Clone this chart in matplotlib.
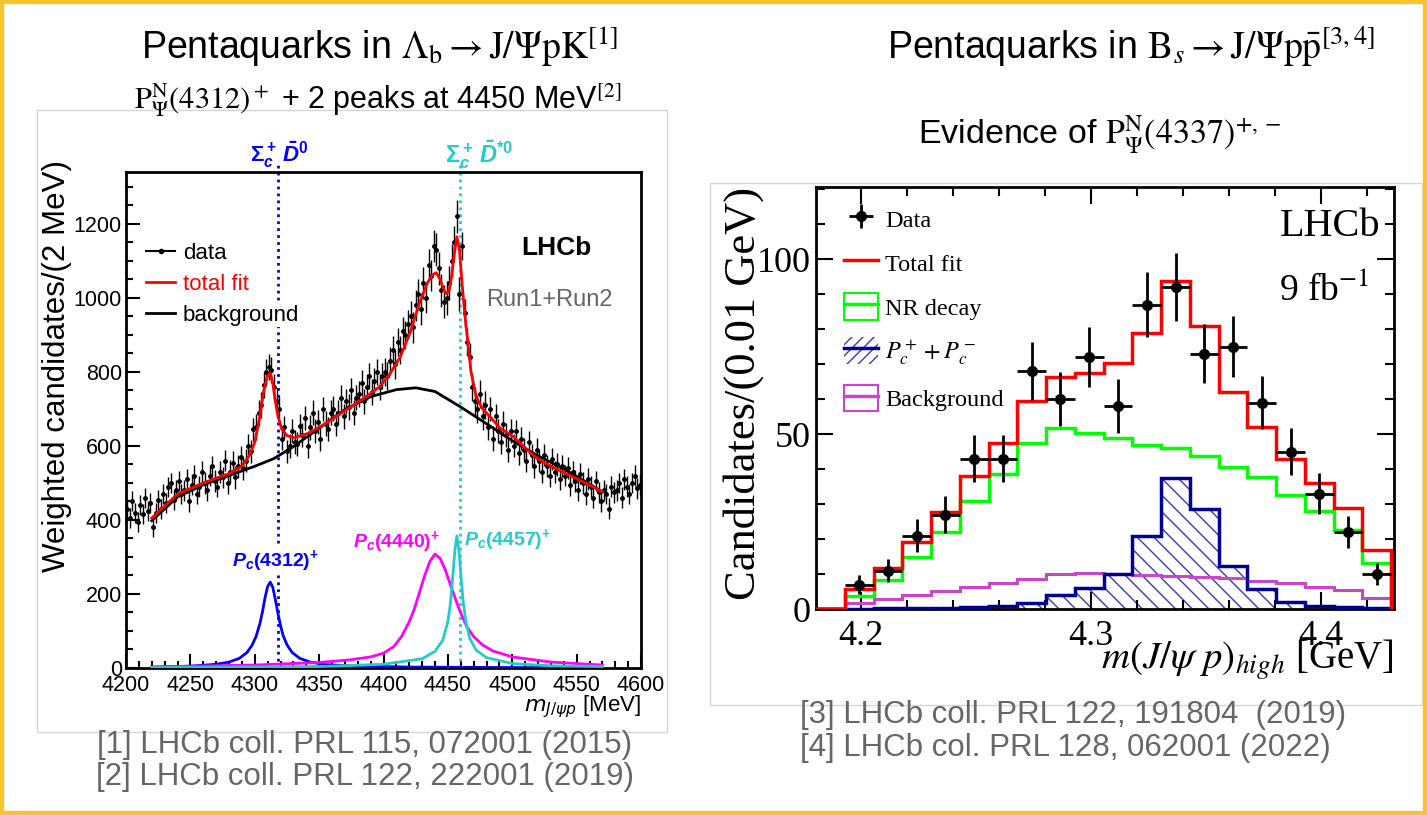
import numpy as np
import matplotlib.pyplot as plt
from matplotlib.patches import Rectangle, Patch
from matplotlib.lines import Line2D
from matplotlib.legend_handler import HandlerTuple
from matplotlib.ticker import MultipleLocator
from matplotlib.font_manager import FontProperties

plt.rcParams['font.family'] = ['Liberation Sans', 'DejaVu Sans']
plt.rcParams['mathtext.fontset'] = 'stix'
# "custom" math font is only used for the bold-italic ROOT labels of the left plot
plt.rcParams['mathtext.it'] = 'Liberation Sans:italic:bold'
plt.rcParams['mathtext.rm'] = 'Liberation Sans:bold'
plt.rcParams['mathtext.bf'] = 'Liberation Sans:bold'
plt.rcParams['hatch.linewidth'] = 1.0

# ---------------- left plot: Lambda_b -> J/psi p K, m(J/psi p) ----------------
lb_mass = list(range(4201, 4600, 2))
lb_counts = [
    430, 405, 450, 420, 395, 440, 415, 460, 425, 445,
    380, 420, 455, 430, 470, 445, 490, 500, 455, 480,
    505, 470, 480, 510, 450, 495, 520, 470, 490, 530,
    500, 480, 520, 545, 505, 490, 530, 515, 560, 500,
    530, 555, 515, 545, 570, 540, 560, 600, 585, 645,
    650, 690, 710, 765, 800, 812, 805, 760, 720, 700,
    620, 650, 585, 600, 640, 610, 605, 655, 630, 675,
    600, 650, 690, 640, 665, 620, 700, 660, 645, 690,
    700, 660, 690, 730, 680, 720, 705, 750, 690, 730,
    740, 770, 720, 760, 790, 745, 775, 800, 760, 790,
    800, 790, 830, 860, 820, 880, 860, 910, 900, 930,
    950, 920, 980, 1010, 970, 1040, 1000, 1090, 1060, 1140,
    1130, 1080, 1020, 990, 1000, 1040, 1100, 1150, 1220, 1010,
    1140, 960, 880, 840, 760, 720, 700, 740, 680, 710,
    650, 700, 620, 680, 640, 610, 660, 630, 590, 640,
    600, 640, 580, 620, 590, 560, 610, 575, 545, 590,
    560, 530, 575, 545, 520, 565, 530, 550, 510, 545,
    520, 540, 495, 530, 505, 480, 525, 500, 470, 510,
    490, 460, 505, 475, 450, 480, 470, 430, 490, 475,
    480, 500, 460, 510, 490, 470, 500, 520, 485, 495,
]
# error per 20 MeV block (10 points each)
lb_block_err = [27, 27, 28, 29, 31, 35, 32, 33, 34, 35,
                38, 42, 45, 38, 33, 31, 30, 29, 28, 28]

fit_m = [4220, 4240, 4260, 4280, 4290, 4296, 4300, 4304, 4307, 4310, 4312, 4314,
         4316, 4318, 4321, 4325, 4330, 4340, 4350, 4360, 4370, 4380, 4390, 4397,
         4405, 4413, 4420, 4428, 4434, 4438, 4441, 4444, 4447, 4449, 4451, 4453,
         4455, 4457, 4459, 4461, 4463, 4465, 4468, 4472, 4477, 4483, 4490, 4501,
         4510, 4519, 4530, 4545, 4560, 4570]
fit_total = [405, 470, 500, 525, 545, 575, 610, 680, 750, 790, 797, 770,
             720, 680, 645, 628, 622, 632, 650, 672, 695, 718, 742, 760,
             795, 840, 900, 986, 1040, 1062, 1068, 1050, 1020, 1011, 1020, 1060,
             1120, 1165, 1130, 1040, 960, 895, 800, 732, 700, 678, 650, 624,
             595, 567, 545, 520, 495, 476]

bkg_m = [4220, 4240, 4260, 4280, 4300, 4315, 4330, 4350, 4370, 4390, 4410, 4425,
         4440, 4460, 4480, 4500, 4520, 4540, 4560, 4570]
bkg_val = [398, 462, 495, 520, 545, 566, 598, 648, 698, 733, 752, 757,
           747, 705, 660, 614, 573, 538, 497, 476]

pc4312_m = [4220, 4250, 4270, 4280, 4288, 4294, 4298, 4301, 4304, 4306, 4308, 4310,
            4312, 4314, 4316, 4318, 4320, 4322, 4325, 4329, 4335, 4343, 4355, 4380,
            4420, 4500, 4570]
pc4312_v = [2, 5, 10, 16, 26, 42, 62, 85, 120, 152, 190, 220,
            232, 218, 185, 148, 115, 88, 63, 42, 26, 16, 9, 5,
            2.5, 1.2, 0.8]

pc4440_m = [4220, 4300, 4350, 4374, 4390, 4400, 4408, 4414, 4420, 4424, 4428, 4432,
            4436, 4440, 4444, 4448, 4452, 4456, 4460, 4465, 4470, 4477, 4485, 4500,
            4530, 4570]
pc4440_v = [3, 8, 15, 22, 30, 40, 58, 85, 125, 160, 205, 250,
            288, 308, 296, 265, 225, 185, 148, 110, 85, 62, 46, 30,
            16, 8]

pc4457_m = [4220, 4350, 4400, 4430, 4440, 4446, 4450, 4452, 4454, 4455.5, 4457,
            4458.5, 4460, 4462, 4464, 4467, 4472, 4480, 4500, 4530, 4570]
pc4457_v = [1, 4, 10, 25, 45, 75, 125, 175, 255, 320, 357,
            320, 255, 175, 125, 80, 48, 28, 12, 6, 4]

thresholds = [4317.7, 4459.6]

# ---------------- right plot: B_s -> J/psi p pbar ----------------
bs_edges = [4.1805, 4.1930, 4.2055, 4.2180, 4.2305, 4.2430, 4.2555, 4.2680,
            4.2805, 4.2930, 4.3055, 4.3180, 4.3305, 4.3430, 4.3555, 4.3680,
            4.3805, 4.3930, 4.4055, 4.4180, 4.4305]
bs_total = [0, 5.7, 11.7, 19.1, 27.7, 38, 47.4, 59.4, 66.3, 67.4, 70.2, 79,
            93.7, 81, 62, 52, 43, 36, 29, 17]
bs_nr = [0, 3.7, 8.3, 14.9, 22, 31, 38.6, 47.4, 51.7, 50.3, 48.8, 47,
         46, 43.7, 40.6, 37.7, 32.6, 28, 22.6, 13.1]
bs_pc = [0, 0.1, 0.2, 0.2, 0.3, 0.5, 0.8, 1.7, 4, 6, 10, 21,
         37.5, 28.6, 12.4, 5.7, 2, 1, 0.5, 0.3]
bs_bkg = [0.4, 1.7, 2.8, 4, 5.1, 6.2, 7.4, 8.6, 10, 10.2, 10, 9.7,
          9.4, 9.2, 8.8, 8, 7.4, 6.4, 5.4, 3.2]
bs_data = [7, 11, 21, 27, 43, 43, 68, 60, 72, 58, 87, 92,
           73, 75, 59, 45, 33, 22, 10]
bs_err = [2.7, 3.4, 4.6, 5.2, 6.6, 6.6, 8.2, 7.8, 8.5, 7.6, 9.3, 9.6,
          8.5, 8.7, 7.7, 6.7, 5.8, 4.7, 3.2]

W, H = 1427, 815


def fx(px):
    return px / W


def fy(py):
    return 1 - py / H


fig = plt.figure(figsize=(W / 100, H / 100), dpi=100)

# slide frame and picture frames
fig.patches.append(Rectangle((0, 0), 1, 1, transform=fig.transFigure, fill=False,
                             edgecolor='#F7C52B', lw=6))
fig.patches.append(Rectangle((fx(37), fy(732)), fx(667) - fx(37), (732 - 110) / H,
                             transform=fig.transFigure, fill=False, edgecolor='#D5D5D5', lw=1))
fig.patches.append(Rectangle((fx(710), fy(705)), fx(1422) - fx(710), (705 - 183) / H,
                             transform=fig.transFigure, fill=False, edgecolor='#D5D5D5', lw=1))

# ---- left axes
axL = fig.add_axes([fx(126), fy(668), fx(641) - fx(126), (668 - 172) / H])
lb_err = np.repeat(lb_block_err, 10)
axL.errorbar(lb_mass, lb_counts, yerr=lb_err, xerr=1, fmt='o', ms=2.5, color='k',
             elinewidth=1.0, capsize=0, zorder=3)
axL.plot(bkg_m, bkg_val, color='k', lw=2, zorder=4)
axL.plot(fit_m, fit_total, color='#FF0000', lw=2, zorder=5)
axL.plot(pc4312_m, pc4312_v, color='#0000FF', lw=2, zorder=4)
axL.plot(pc4440_m, pc4440_v, color='#FF00FF', lw=2, zorder=4)
axL.plot(pc4457_m, pc4457_v, color='#22CCCC', lw=2, zorder=4)
for thr, col in zip(thresholds, ['#0000FF', '#22CCCC']):
    axL.axvline(thr, ymin=0, ymax=1.015, color=col, ls=(0, (1, 1.5)), lw=2,
                clip_on=False, zorder=2)

axL.set_xlim(4200, 4600)
axL.set_ylim(0, 1340)
axL.xaxis.set_major_locator(MultipleLocator(50))
axL.xaxis.set_minor_locator(MultipleLocator(10))
axL.yaxis.set_major_locator(MultipleLocator(200))
axL.yaxis.set_minor_locator(MultipleLocator(50))
axL.tick_params(which='both', direction='in', top=False, right=False, width=1.5)
axL.tick_params(which='major', length=10, labelsize=15.5, pad=3)
axL.tick_params(axis='x', which='major', pad=5)
axL.tick_params(which='minor', length=5)
for s in axL.spines.values():
    s.set_linewidth(2)

lg = axL.legend([Line2D([], [], color='k', lw=1.5, marker='o', ms=3),
                 Line2D([], [], color='#FF0000', lw=2),
                 Line2D([], [], color='k', lw=2)],
                ['data', 'total fit', 'background'], loc='upper left',
                bbox_to_anchor=(fx(135), fy(232)), bbox_transform=fig.transFigure,
                frameon=False, fontsize=16, handlelength=1.3, handletextpad=0.35,
                labelspacing=0.45, borderpad=0)
lg.get_texts()[1].set_color('#FF0000')
lg.get_texts()[2].set_bbox(dict(facecolor='white', edgecolor='none', pad=1))

axL.text(4534, 1135, 'LHCb', fontsize=19, fontweight='bold', ha='center', va='center')
axL.text(4529, 995, 'Run1+Run2', fontsize=17, color='#666666', ha='center', va='center')
axL.text(4316, 289, r'$\mathit{P_c}$(4312)$^\mathbf{+}$', color='#0000FF', fontsize=14,
         fontweight='bold', ha='center', va='center', math_fontfamily='custom',
         bbox=dict(facecolor='white', edgecolor='none', pad=1), zorder=6)
axL.text(4410, 340, r'$\mathit{P_c}$(4440)$^\mathbf{+}$', color='#FF00FF', fontsize=14,
         fontweight='bold', ha='center', va='center', math_fontfamily='custom')
axL.text(4496, 345, r'$\mathit{P_c}$(4457)$^\mathbf{+}$', color='#22CCCC', fontsize=14,
         fontweight='bold', ha='center', va='center', math_fontfamily='custom')
axL.text(4319, 1.036, r'$\mathit{\Sigma_c^+\,\bar{D}^0}$', color='#0000FF', fontsize=16,
         ha='center', va='center', transform=axL.get_xaxis_transform(),
         math_fontfamily='custom')
axL.text(4474, 1.036, r'$\mathit{\Sigma_c^+\,\bar{D}^{*0}}$', color='#22CCCC', fontsize=17,
         ha='center', va='center', transform=axL.get_xaxis_transform(),
         math_fontfamily='custom')

fig.text(fx(57), fy(160), 'Weighted candidates/(2 MeV)', rotation=90, ha='center',
         va='top', fontsize=22.5)
fig.text(fx(641), fy(707), r'$m_{J/\psi p}$ [MeV]', ha='right', va='center', fontsize=16,
         math_fontfamily='dejavusans')

# ---- right axes
axR = fig.add_axes([fx(816), fy(609), fx(1394) - fx(816), (609 - 187) / H])
axR.stairs(bs_pc, bs_edges, fill=True, facecolor='none', edgecolor='#3A3AB0',
           hatch='\\\\', lw=0, zorder=1)
axR.stairs(bs_bkg, bs_edges, color='#CC44CC', lw=2.2, zorder=2)
axR.stairs(bs_pc, bs_edges, color='#000099', lw=2.5, zorder=3)
axR.stairs(bs_nr, bs_edges, color='#00FF00', lw=2.5, zorder=3)
axR.stairs(bs_total, bs_edges, color='#FF0000', lw=2.5, zorder=4)
centers = [(a + b) / 2 for a, b in zip(bs_edges[1:-1], bs_edges[2:])]
dat = axR.errorbar(centers, bs_data, yerr=bs_err, xerr=0.00625, fmt='o', ms=7,
                   color='k', elinewidth=2, capsize=0, zorder=5)

axR.set_xlim(4.1805, 4.4317)
axR.set_ylim(0, 120.6)
axR.xaxis.set_major_locator(MultipleLocator(0.1))
axR.xaxis.set_minor_locator(MultipleLocator(0.02))
axR.yaxis.set_major_locator(MultipleLocator(50))
axR.yaxis.set_minor_locator(MultipleLocator(10))
axR.tick_params(which='both', direction='in', top=True, right=True, width=1.5,
                labelfontfamily='Liberation Serif')
axR.tick_params(which='major', length=12, labelsize=26)
axR.tick_params(axis='x', which='major', pad=8)
axR.tick_params(axis='y', which='major', pad=4)
axR.tick_params(which='minor', length=6.5)
for s in axR.spines.values():
    s.set_linewidth(2)

serif17 = FontProperties(family='Liberation Serif', size=17.5, math_fontfamily='stix')
handles = [dat,
           Line2D([], [], color='#FF0000', lw=2.5),
           (Patch(facecolor='none', edgecolor='#00FF00', lw=1.5),
            Line2D([], [], color='#00FF00', lw=2.5)),
           (Patch(facecolor='none', edgecolor='#3A3AB0', hatch='///', lw=0),
            Line2D([], [], color='#000099', lw=2.5)),
           (Patch(facecolor='none', edgecolor='#CC44CC', lw=1.5),
            Line2D([], [], color='#CC44CC', lw=2.5))]
axR.legend(handles, ['Data', 'Total fit', 'NR decay', r'$P_c^+ + P_c^-$', 'Background'],
           handler_map={tuple: HandlerTuple(ndivide=1)}, loc='upper left',
           bbox_to_anchor=(fx(832), fy(193)), bbox_transform=fig.transFigure,
           frameon=False, prop=serif17, handlelength=1.4, handleheight=1.3,
           handletextpad=0.3, labelspacing=0.72, borderpad=0)

axR.text(4.4257, 109.4, 'LHCb', fontsize=29, fontfamily='Liberation Serif', ha='right',
         va='center')
axR.text(4.4014, 91, r'9 fb$^{-1}$', fontsize=27, fontfamily='Liberation Serif',
         ha='center', va='center')
fig.text(fx(744), fy(187), 'Candidates/(0.01 GeV)', rotation=90, ha='center', va='top',
         fontsize=32, fontfamily='Liberation Serif')
fig.text(fx(1393), fy(660), r'$m(J/\psi\ p)_{high}$ [GeV]', ha='right', va='center',
         fontsize=28, fontfamily='Liberation Serif', math_fontfamily='stix')

# ---- slide texts
fig.text(fx(380), fy(47), r'Pentaquarks in $\mathrm{\Lambda_b \rightarrow J/\Psi pK}^{[1]}$',
         ha='center', va='center', fontsize=27)
fig.text(fx(378), fy(100), r'$\mathrm{P_\Psi^N(4312)^+}$ + 2 peaks at 4450 MeV$^{[2]}$',
         ha='center', va='center', fontsize=22)
fig.text(fx(1131), fy(47), r'Pentaquarks in $\mathrm{B}_s \rightarrow \mathrm{J/\Psi p\bar{p}}^{[3,4]}$',
         ha='center', va='center', fontsize=27)
fig.text(fx(1100), fy(135), r'Evidence of $\mathrm{P_\Psi^N(4337)^{+,-}}$',
         ha='center', va='center', fontsize=24.5)

fig.text(fx(365), fy(745), '[1] LHCb coll. PRL 115, 072001 (2015)', ha='center',
         va='center', fontsize=22.5, color='#666666')
fig.text(fx(365), fy(777), '[2] LHCb coll. PRL 122, 222001 (2019)', ha='center',
         va='center', fontsize=22.5, color='#666666')
fig.text(fx(800), fy(715), '[3] LHCb coll. PRL 122, 191804  (2019)', ha='left',
         va='center', fontsize=22.5, color='#666666')
fig.text(fx(800), fy(748), '[4] LHCb col. PRL 128, 062001 (2022)', ha='left',
         va='center', fontsize=22.5, color='#666666')

fig.savefig('out.png', dpi=100)
